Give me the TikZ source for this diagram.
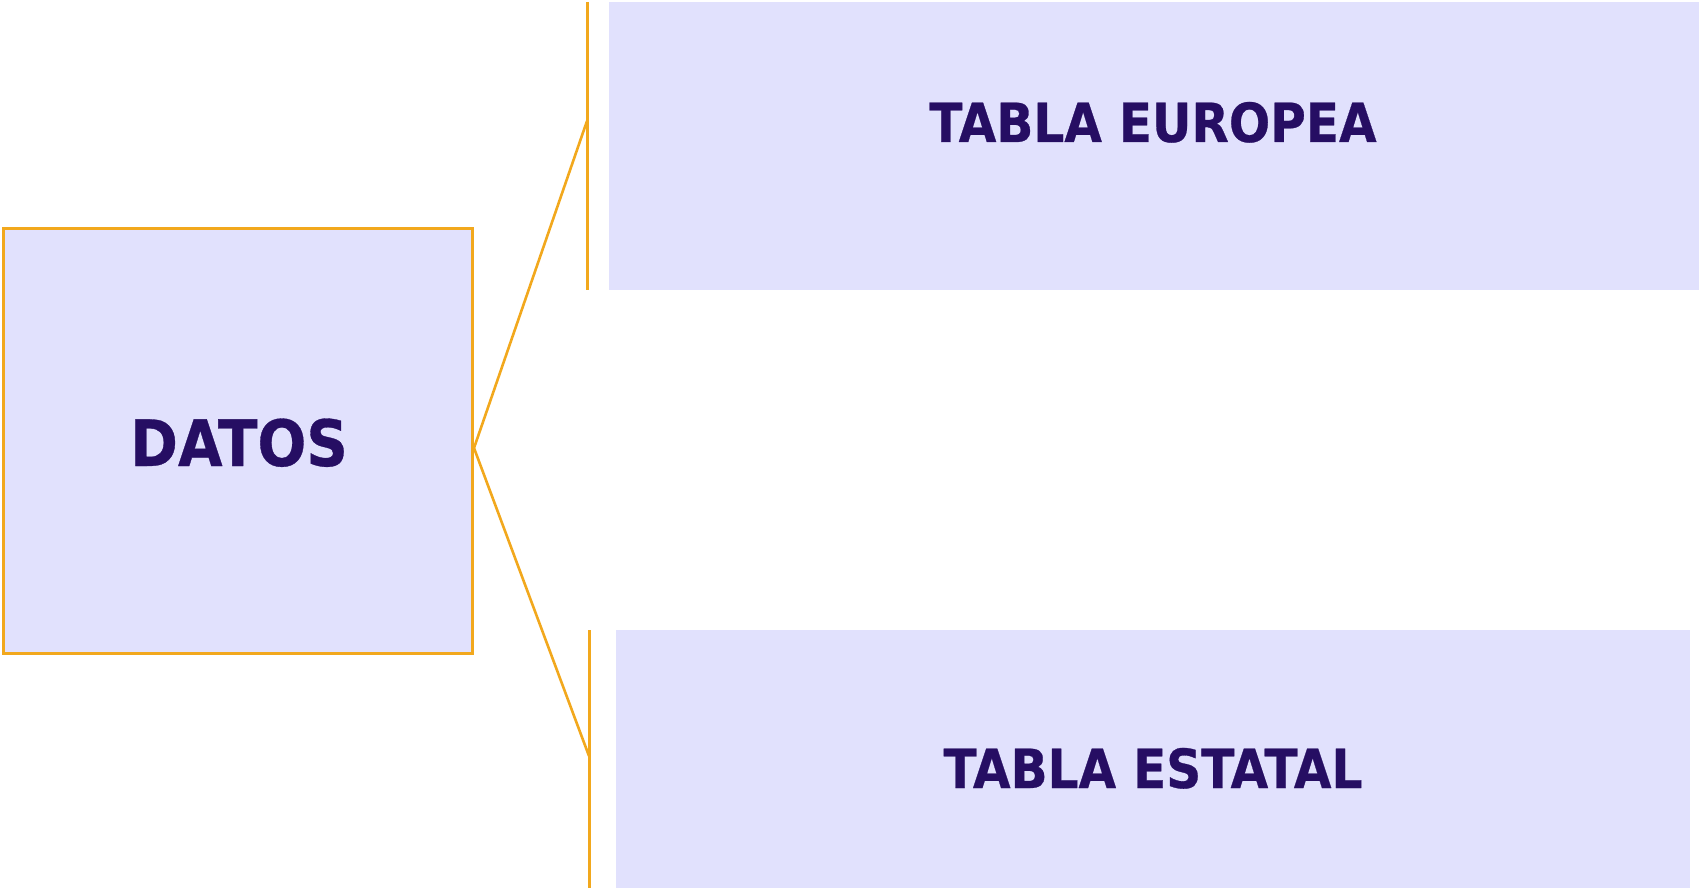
\documentclass[tikz,border=0pt]{standalone}
\usepackage{fontspec}
\setmainfont{DejaVu Sans}
\newfontfamily\heavy{DejaVu Sans Bold}[FakeBold=0.5,FakeStretch=0.9]
\definecolor{boxfill}{HTML}{E1E1FD}
\definecolor{ink}{HTML}{260E63}
\definecolor{edge}{HTML}{F2A81D}
\begin{document}
\begin{tikzpicture}[x=1pt,y=-1pt,
  panel/.style={rectangle,fill=boxfill,inner sep=0pt,outer sep=0pt},
  lbl/.style={anchor=base,text=ink,inner sep=0pt},
  bar/.style={draw=edge,line width=3pt},
  link/.style={draw=edge,line width=2.6pt}]
\useasboundingbox (0,0) rectangle (1704,893);
% boxes
\node[panel,draw=edge,line width=3pt,minimum width=469pt,minimum height=424pt] (datos) at (238,441) {};
\node[panel,minimum width=1090pt,minimum height=288pt] (euro) at (1153.5,146) {};
\node[panel,minimum width=1074pt,minimum height=258pt] (esta) at (1153,759) {};
% labels
\node[lbl,font=\heavy\fontsize{64}{66}\selectfont] (tdatos) at (239,466) {DATOS};
\node[lbl,font=\heavy\fontsize{54}{56}\selectfont] (teuro) at (1153,142) {TABLA EUROPEA};
\node[lbl,font=\heavy\fontsize{54}{56}\selectfont] (testa) at (1153,788) {TABLA ESTATAL};
% brackets
\coordinate (b1t) at (587,2);
\coordinate (b1b) at (587,290);
\coordinate (b2t) at (589,630);
\coordinate (b2b) at (589,888);
\coordinate (j1) at (587,121);
\coordinate (j2) at (589,756);
\coordinate (v) at (474,448);
\draw[bar] (b1t) -- (b1b);
\draw[bar] (b2t) -- (b2b);
\draw[link] (v) -- (j1);
\draw[link] (v) -- (j2);
\end{tikzpicture}
\end{document}
